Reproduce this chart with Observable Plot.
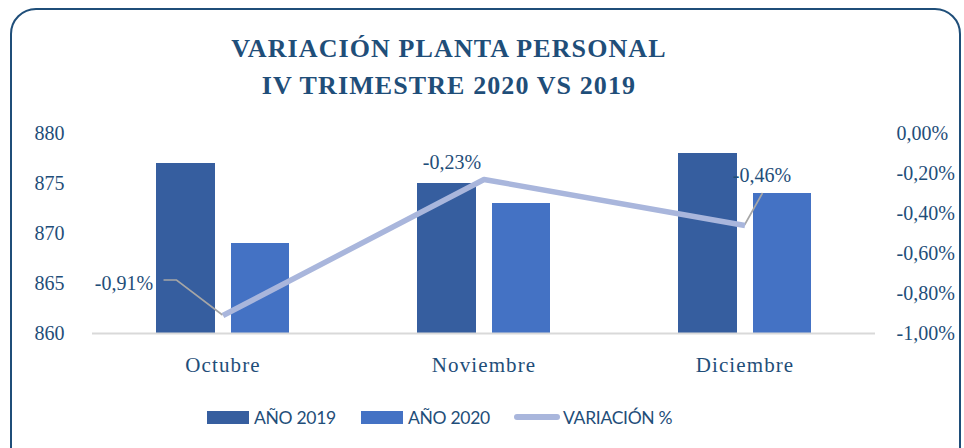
<!DOCTYPE html>
<html>
<head>
<meta charset="utf-8">
<script src="https://cdn.jsdelivr.net/npm/d3@7"></script>
<script src="https://cdn.jsdelivr.net/npm/@observablehq/plot@0.6"></script>
<style>
  html, body { margin: 0; padding: 0; background: #fff; }
  #wrap { position: relative; width: 964px; height: 448px; overflow: hidden; background: #fff; }
  #frame { position: absolute; left: 10px; top: 8px; width: 951px; height: 470px;
           border: 2.5px solid #1F4E79; border-radius: 26px; box-sizing: border-box; }
  #title { position: absolute; left: 0; top: 30px; width: 898px; text-align: center;
           font-family: "Liberation Serif", serif; font-weight: bold; font-size: 26px;
           letter-spacing: 1.1px; line-height: 37px; color: #1F4E79; }
  #chart { position: absolute; left: 0; top: 0; }
  .leg { position: absolute; top: 405px; height: 24px; display: flex; align-items: center;
         font-family: Lato, "Noto Sans", sans-serif; font-size: 17.5px; color: #1F4E79; letter-spacing: -0.3px; white-space: nowrap; }
  .sw { width: 42px; height: 13px; margin-right: 5px; }
  .swl { width: 46px; height: 6px; border-radius: 3px; margin-right: 3px; }
  g[aria-label="x-axis tick label"] text { letter-spacing: 1.1px; }
</style>
</head>
<body>
<div id="wrap">
  <div id="frame"></div>
  <div id="title">VARIACIÓN PLANTA PERSONAL<br>IV TRIMESTRE 2020 VS 2019</div>
  <div id="chart"></div>
  <div id="legend"></div>
</div>
<script>
// ---- data ----
const months = ["Octubre", "Noviembre", "Diciembre"];
const ano2019 = [877, 875, 878];
const ano2020 = [869, 873, 874];
const variacion = [-0.91, -0.23, -0.46]; // percent
const leftTicks = [860, 865, 870, 875, 880];
const rightTicks = [0, -0.2, -0.4, -0.6, -0.8, -1.0];
const seriesNames = ["AÑO 2019", "AÑO 2020", "VARIACIÓN %"];

// ---- styles ----
const colors = ["#365E9F", "#4472C4", "#A9B6DC"];
const textColor = "#1F4E79";
const labelStyle = [
  {dx: -99, dy: -32, leader: [[0, 0], [-46, -35], [-59, -35]]},
  {dx: -32, dy: -17, leader: null},
  {dx: 17, dy: -50, leader: [[0, 0], [18, -32]]}
];

// mapping of the secondary (percent) axis onto the primary domain
const yMin = 860, yMax = 880;
const pctToY = p => yMax + p * (yMax - yMin);
const fmtPct = p => (Math.abs(p) < 1e-9 ? 0 : p).toFixed(2).replace(".", ",") + "%";

const rows2019 = months.map((m, i) => ({month: m, v: ano2019[i]}));
const rows2020 = months.map((m, i) => ({month: m, v: ano2020[i]}));
const rowsVar = months.map((m, i) => ({month: m, p: variacion[i]}));

const labelMarks = rowsVar.map((r, i) =>
  Plot.text([r], {x: "month", y: d => pctToY(d.p), text: d => fmtPct(d.p),
    dx: labelStyle[i].dx, dy: labelStyle[i].dy, fill: textColor, fontSize: 20})
);

function leaders(index, scales, values, dimensions) {
  const {x, y} = scales;
  let bw = x.bandwidth;
  if (typeof bw === "function") bw = bw.call(x);
  if (!(bw > 0)) bw = (dimensions.width - dimensions.marginLeft - dimensions.marginRight) / months.length;
  const g = document.createElementNS("http://www.w3.org/2000/svg", "g");
  rowsVar.forEach((r, i) => {
    const L = labelStyle[i].leader;
    if (!L) return;
    const cx = x(r.month) + bw / 2, cy = y(pctToY(r.p));
    const p = document.createElementNS("http://www.w3.org/2000/svg", "polyline");
    p.setAttribute("points", L.map(([a, b]) => `${cx + a},${cy + b}`).join(" "));
    p.setAttribute("fill", "none");
    p.setAttribute("stroke", "#A6A6A6");
    p.setAttribute("stroke-width", "1.6");
    g.appendChild(p);
  });
  return g;
}

const chart = Plot.plot({
  width: 964,
  height: 448,
  marginTop: 133,
  marginBottom: 115,
  marginLeft: 92,
  marginRight: 89,
  style: {fontFamily: "Liberation Serif, serif", fontSize: "20px", color: textColor, background: "transparent"},
  x: {type: "band", domain: months, padding: 0},
  y: {domain: [yMin, yMax]},
  marks: [
    Plot.barY(rows2019, {x: "month", y1: yMin, y2: "v", fill: colors[0], insetLeft: 64, insetRight: 138}),
    Plot.barY(rows2020, {x: "month", y1: yMin, y2: "v", fill: colors[1], insetLeft: 139, insetRight: 64}),
    Plot.ruleY([yMin], {stroke: "#D9D9D9", strokeWidth: 2}),
    Plot.axisY(leftTicks, {anchor: "left", tickSize: 0, tickPadding: 28, label: null, fontSize: 20}),
    Plot.axisY(rightTicks.map(pctToY), {anchor: "right", tickSize: 0, tickPadding: 21, label: null, fontSize: 20,
      tickFormat: d => fmtPct((d - yMax) / (yMax - yMin))}),
    Plot.axisX({tickSize: 0, tickPadding: 24, label: null, fontSize: 21}),
    leaders,
    Plot.line(rowsVar, {x: "month", y: d => pctToY(d.p), stroke: colors[2], strokeWidth: 5.5, strokeLinecap: "butt"}),
    ...labelMarks
  ]
});
document.getElementById("chart").appendChild(chart);

// ---- legend ----
const legendLeft = [207, 361, 514];
const legend = document.getElementById("legend");
seriesNames.forEach((name, i) => {
  const item = document.createElement("div");
  item.className = "leg";
  item.style.left = legendLeft[i] + "px";
  const sw = document.createElement("div");
  sw.className = i < 2 ? "sw" : "swl";
  sw.style.background = colors[i];
  const t = document.createElement("span");
  t.textContent = name;
  item.appendChild(sw);
  item.appendChild(t);
  legend.appendChild(item);
});
</script>
</body>
</html>
